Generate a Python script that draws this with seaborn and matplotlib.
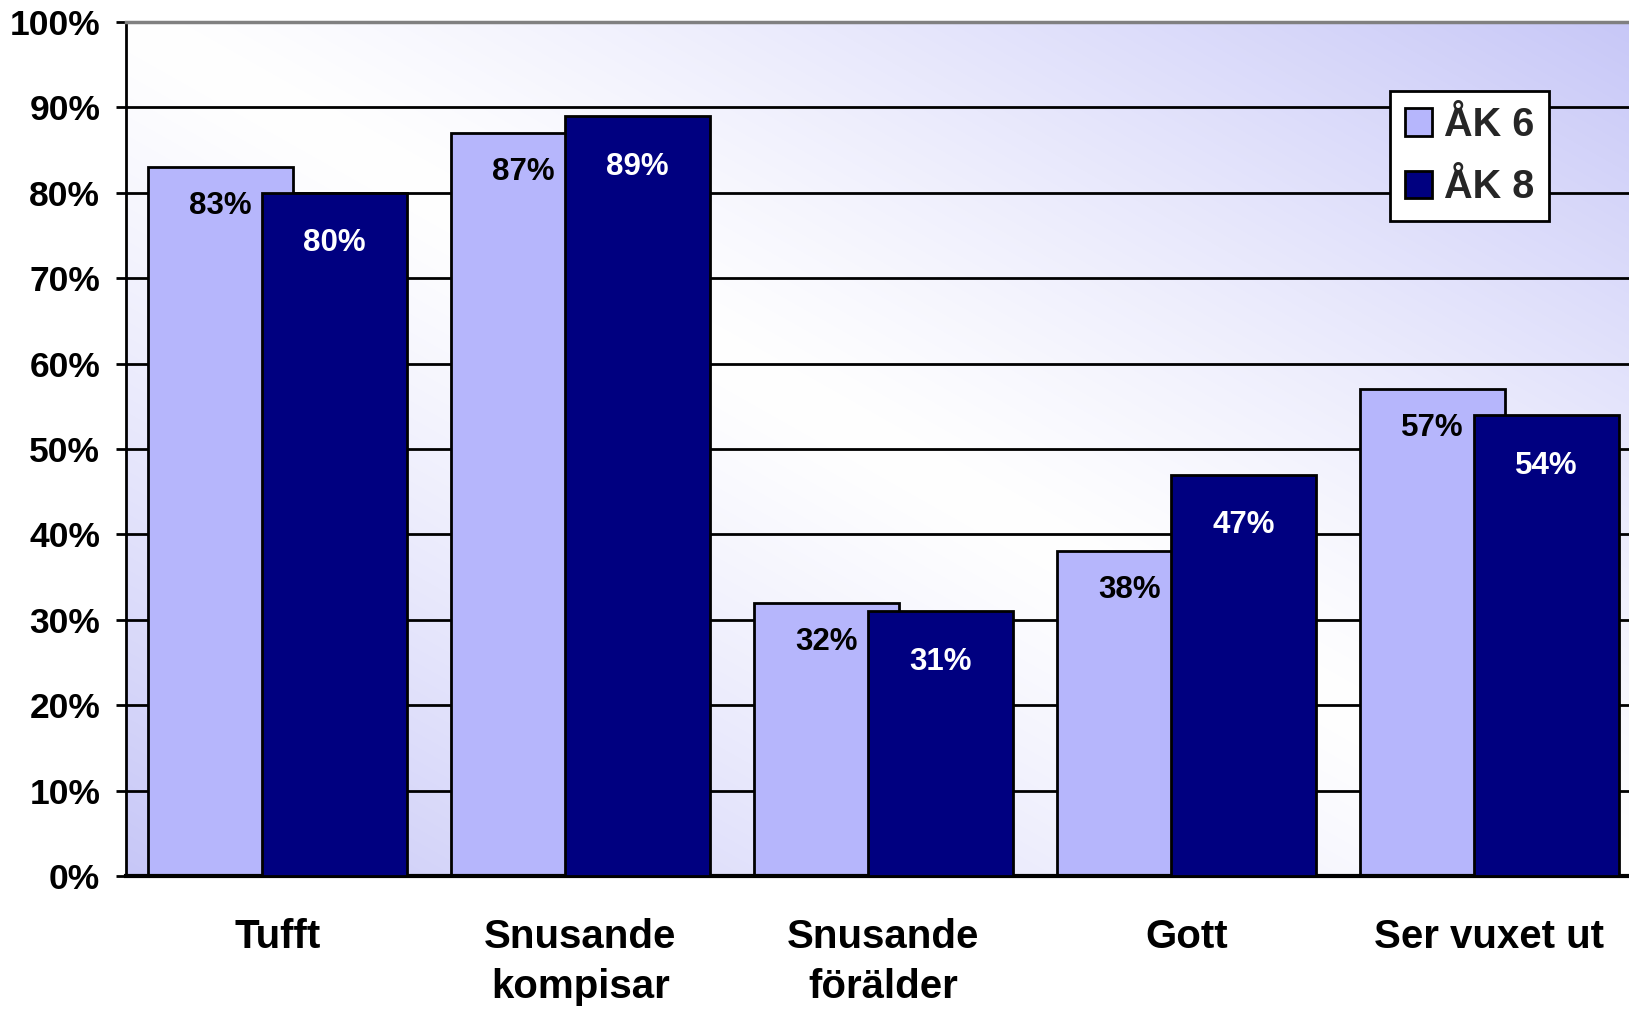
import numpy as np
import pandas as pd
import matplotlib.pyplot as plt
import seaborn as sns
from matplotlib.patches import Patch

# =========================
# DATA
# =========================
categories = ["Tufft", "Snusande\nkompisar", "Snusande\nförälder", "Gott", "Ser vuxet ut"]
ak6 = [83, 87, 32, 38, 57]
ak8 = [80, 89, 31, 47, 54]
series_names = ["ÅK 6", "ÅK 8"]
yticks = list(range(0, 101, 10))

light = "#b6b6fc"
dark = "#000080"

# =========================
# STYLE
# =========================
sns.set_style("white")
plt.rcParams["font.family"] = ["Liberation Sans", "DejaVu Sans"]
plt.rcParams["font.weight"] = "bold"

fig = plt.figure(figsize=(16.29, 10.09), dpi=100)
ax = fig.add_axes([0.0773, 0.1318, 0.930, 0.8464])

# diagonal gradient background (white band from top-left to bottom-right)
n = 300
xx, yy = np.meshgrid(np.linspace(0, 1, n), np.linspace(0, 1, n))
d = np.abs(xx + yy - 1) ** 1.2
lav = np.array([0.78, 0.78, 0.97])
img = (1 - d)[..., None] * np.ones(3) + d[..., None] * lav
ax.imshow(img, extent=[0, 1, 0, 1], transform=ax.transAxes, origin="lower",
          aspect="auto", zorder=0, interpolation="bilinear")

# =========================
# BARS
# =========================
pos = np.arange(len(categories))
off = 0.1885
bw = 0.48

df6 = pd.DataFrame({"x": pos - off, "v": ak6})
df8 = pd.DataFrame({"x": pos + off, "v": ak8})

sns.barplot(data=df6, x="x", y="v", native_scale=True, width=bw, color=light,
            saturation=1, edgecolor="black", linewidth=2, errorbar=None, ax=ax, zorder=2)
sns.barplot(data=df8, x="x", y="v", native_scale=True, width=bw, color=dark,
            saturation=1, edgecolor="black", linewidth=2, errorbar=None, ax=ax, zorder=3)

# value labels
for x, v in zip(pos - off, ak6):
    ax.annotate(f"{v}%", (x, v), xytext=(0, -28), textcoords="offset points",
                ha="center", va="center", fontsize=22.5, fontweight="bold",
                color="black", zorder=5)
for x, v in zip(pos + off, ak8):
    ax.annotate(f"{v}%", (x, v), xytext=(0, -36.5), textcoords="offset points",
                ha="center", va="center", fontsize=22.5, fontweight="bold",
                color="white", zorder=5)

# =========================
# AXES
# =========================
ax.set_xlim(-0.5, 4.5)
ax.set_ylim(0, 100)
ax.set_xlabel("")
ax.set_ylabel("")

ax.set_yticks(yticks)
ax.set_yticklabels([f"{t}%" for t in yticks])
ax.set_xticks(pos)
ax.set_xticklabels(categories, linespacing=1.38, va="top")

ax.set_axisbelow(True)
ax.yaxis.grid(True, color="black", linewidth=2)
ax.xaxis.grid(False)

ax.tick_params(axis="y", length=7.5, width=2, pad=11, labelsize=25.5,
               labelcolor="black", color="black", direction="out", left=True)
ax.tick_params(axis="x", length=0, pad=30.5, labelsize=29, labelcolor="black")

ax.spines["left"].set_color("black")
ax.spines["left"].set_linewidth(2)
ax.spines["bottom"].set_color("black")
ax.spines["bottom"].set_linewidth(3)
ax.spines["top"].set_color("#808080")
ax.spines["top"].set_linewidth(2.5)
ax.spines["right"].set_visible(False)

# =========================
# LEGEND
# =========================
handles = [Patch(facecolor=light, edgecolor="black", linewidth=2),
           Patch(facecolor=dark, edgecolor="black", linewidth=2)]
leg = fig.legend(handles, series_names, loc="upper left",
                 bbox_to_anchor=(0.853, 0.910), bbox_transform=fig.transFigure,
                 prop={"size": 28.5, "weight": "bold"}, frameon=True, fancybox=False,
                 handlelength=0.7, handleheight=0.7, handletextpad=0.3,
                 labelspacing=0.62, borderpad=0.38, borderaxespad=0)
leg.get_frame().set_edgecolor("black")
leg.get_frame().set_linewidth(2)
leg.get_frame().set_facecolor("white")
leg.get_frame().set_alpha(1)

fig.savefig("out.png", dpi=100)
